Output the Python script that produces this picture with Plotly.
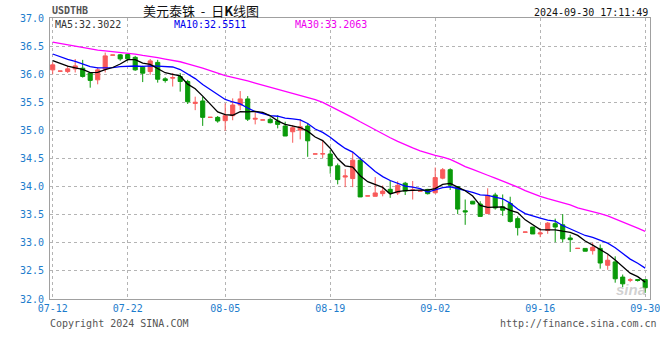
import plotly.graph_objects as go
import pandas as pd

# ---------------- data ----------------
dates = [d.strftime("%Y-%m-%d") for d in pd.date_range("2024-07-12", "2024-09-30")
         if d.strftime("%m-%d") != "07-28"]

open_ = [36.077, 36.053, 36.047, 36.095, 36.107, 36.02, 35.90, 36.09, 36.338, 36.344,
         36.35, 36.30, 36.125, 36.047, 36.21, 35.917, 35.93, 35.958, 35.87, 35.48,
         35.524, 35.230, 35.232, 35.173, 35.262, 35.452, 35.56, 35.20, 35.183, 35.196,
         35.167, 35.077, 34.976, 35.006, 35.077, 34.578, 34.58, 34.58, 34.37, 34.17,
         34.143, 34.47, 33.831, 33.827, 33.875, 33.952, 33.887, 34.06, 33.935, 33.918,
         33.95, 33.89, 34.15, 34.30, 34.0, 33.57, 33.74, 33.69, 33.52, 33.85,
         33.64, 33.70, 33.43, 33.188, 33.28, 33.157, 33.22, 33.34, 33.32, 33.086,
         32.898, 32.90, 32.86, 32.90, 32.60, 32.66, 32.39, 32.335, 32.345, 32.345]
high = [36.21, 36.056, 36.15, 36.27, 36.255, 36.02, 36.12, 36.385, 36.342, 36.36,
        36.37, 36.326, 36.15, 36.27, 36.255, 35.946, 36.02, 36.02, 35.90, 35.60,
        35.60, 35.234, 35.256, 35.48, 35.57, 35.70, 35.61, 35.32, 35.187, 35.23,
        35.27, 35.155, 35.095, 35.20, 35.125, 34.582, 34.83, 34.65, 34.41, 34.31,
        34.61, 34.52, 33.835, 34.17, 34.02, 34.11, 34.095, 34.084, 34.10, 33.922,
        33.96, 34.34, 34.33, 34.325, 34.01, 33.77, 33.745, 33.74, 33.97, 33.89,
        33.86, 33.82, 33.47, 33.192, 33.28, 33.26, 33.37, 33.43, 33.51, 33.145,
        32.902, 32.90, 33.0, 32.97, 32.79, 32.76, 32.435, 32.37, 32.35, 32.345]
low = [36.00, 36.053, 36.02, 36.03, 35.94, 35.76, 35.82, 36.03, 36.338, 36.24,
       36.24, 36.06, 35.86, 35.99, 35.85, 35.85, 35.78, 35.69, 35.47, 35.36,
       35.08, 35.230, 35.137, 34.994, 35.18, 35.36, 35.167, 35.107, 35.183, 35.125,
       35.036, 34.90, 34.78, 34.84, 34.53, 34.578, 34.51, 34.23, 34.04, 33.99,
       33.99, 33.816, 33.831, 33.827, 33.827, 33.80, 33.85, 33.85, 33.77, 33.918,
       33.86, 33.874, 34.13, 33.94, 33.51, 33.32, 33.69, 33.47, 33.52, 33.59,
       33.48, 33.36, 33.13, 33.188, 33.157, 33.10, 33.16, 33.01, 33.01, 32.837,
       32.898, 32.85, 32.79, 32.54, 32.52, 32.29, 32.21, 32.30, 32.31, 32.11]
close = [36.166, 36.056, 36.095, 36.148, 35.96, 35.89, 36.077, 36.326, 36.342, 36.273,
         36.273, 36.077, 36.018, 36.237, 35.91, 35.887, 35.94, 35.87, 35.51, 35.50,
         35.232, 35.234, 35.167, 35.262, 35.452, 35.56, 35.20, 35.214, 35.187, 35.137,
         35.107, 34.90, 35.048, 35.065, 34.815, 34.582, 34.585, 34.37, 34.125, 34.19,
         34.47, 33.816, 33.835, 33.887, 33.92, 33.887, 34.024, 33.92, 33.94, 33.922,
         33.874, 34.16, 34.30, 34.024, 33.60, 33.55, 33.69, 33.47, 33.843, 33.62,
         33.58, 33.38, 33.27, 33.192, 33.157, 33.175, 33.35, 33.28, 33.07, 33.056,
         32.902, 32.85, 32.92, 32.64, 32.69, 32.36, 32.27, 32.34, 32.33, 32.20]
# closes before 07-12 (estimated), needed for the moving averages at the left edge
prior_close = [36.80, 36.78, 36.75, 36.74, 36.72, 36.70, 36.73, 36.72, 36.70, 36.68,
               36.66, 36.70, 36.68, 36.65, 36.66, 36.62, 36.60, 36.58, 36.56, 36.53,
               36.55, 36.55, 36.50, 36.45, 36.33, 36.30, 36.35, 36.30, 36.10]

tick_dates = ["2024-07-12", "2024-07-22", "2024-08-05", "2024-08-19",
              "2024-09-02", "2024-09-16", "2024-09-30"]
tick_labels = ["07-12", "07-22", "08-05", "08-19", "09-02", "09-16", "09-30"]
y_ticks = [32.0, 32.5, 33.0, 33.5, 34.0, 34.5, 35.0, 35.5, 36.0, 36.5, 37.0]

# ---------------- moving averages ----------------
allc = pd.Series(prior_close + close)
n_prior = len(prior_close)
ma5 = allc.rolling(5).mean().iloc[n_prior:].tolist()
ma10 = allc.rolling(10).mean().iloc[n_prior:].tolist()
ma30 = allc.rolling(30).mean().iloc[n_prior:].tolist()

RED = "#f85a5a"
GREEN = "#0a9a0a"
BLUE_TXT = "#1c7ccc"
MONO = "DejaVu Sans Mono"

fig = go.Figure()
fig.add_trace(go.Candlestick(
    x=dates, open=open_, high=high, low=low, close=close,
    increasing=dict(line=dict(color=RED, width=1), fillcolor=RED),
    decreasing=dict(line=dict(color=GREEN, width=1), fillcolor=GREEN),
    whiskerwidth=0, hoverinfo="skip", showlegend=False))
fig.add_trace(go.Scatter(x=dates, y=ma30, mode="lines",
                         line=dict(color="#ff00ff", width=1.3), hoverinfo="skip", showlegend=False))
fig.add_trace(go.Scatter(x=dates, y=ma10, mode="lines",
                         line=dict(color="#0000ff", width=1.3), hoverinfo="skip", showlegend=False))
fig.add_trace(go.Scatter(x=dates, y=ma5, mode="lines",
                         line=dict(color="#000000", width=1.3), hoverinfo="skip", showlegend=False))

L, R, T, B = 50, 10, 18, 61
W, H = 660, 360
PW, PH = W - L - R, H - T - B


def px(x):
    return (x - L) / PW


def py(y):
    return (H - B - y) / PH


fig.update_layout(
    width=W, height=H,
    margin=dict(l=L, r=R, t=T, b=B, pad=0, autoexpand=False),
    paper_bgcolor="white", plot_bgcolor="white",
    showlegend=False,
    boxgap=0.22,
    xaxis=dict(type="category", range=[-0.36, len(dates) - 0.36],
               tickmode="array", tickvals=tick_dates, ticktext=tick_labels,
               showgrid=True, gridcolor="#b4b4b4", griddash="dot", gridwidth=1,
               showline=True, linecolor="#a0a0a0", linewidth=1, mirror=True,
               ticks="", rangeslider=dict(visible=False),
               tickfont=dict(family=MONO, size=10, color=BLUE_TXT)),
    yaxis=dict(range=[32.0, 37.0], tickmode="array", tickvals=y_ticks,
               ticktext=[f"{v:.1f}" for v in y_ticks],
               showgrid=True, gridcolor="#b4b4b4", griddash="dot", gridwidth=1,
               zeroline=False,
               showline=True, linecolor="#a0a0a0", linewidth=1, mirror=True,
               ticks="", ticklabelstandoff=3,
               tickfont=dict(family=MONO, size=10, color=BLUE_TXT)),
)


def ann(text, x, y, xanchor="left", size=10, color="#333", family=MONO):
    fig.add_annotation(text=text, x=px(x), y=py(y), xref="paper", yref="paper",
                       xanchor=xanchor, yanchor="middle", showarrow=False,
                       font=dict(family=family, size=size, color=color),
                       borderpad=0)


ann("<b>USDTHB</b>", 51, 11, size=10, color="#555")
ann("美元泰铢&nbsp;&nbsp;-&nbsp;&nbsp;日<b>K</b>线图", 201, 10, xanchor="center", size=13,
    color="#111", family="Noto Sans CJK SC")
ann("2024-09-30 17:11:49", 649, 12, xanchor="right", size=10, color="#111")
ann("MA5:32.3022", 54, 24, size=10, color="#333")
ann("MA10:32.5511", 173, 24, size=10, color="#0000ee")
ann("MA30:33.2063", 294, 24, size=10, color="#ee00ee")
ann("Copyright 2024 SINA.COM", 49, 323, size=10, color="#555")
ann("http://finance.sina.com.cn", 658, 323, xanchor="right", size=10, color="#555")
ann("<b><i>sina</i></b>", 631, 289, xanchor="center", size=15,
    color="rgba(170,170,170,0.55)", family="Liberation Sans")

fig.write_html("out.html", config={"displayModeBar": False},
               post_script="document.body.style.margin='0';")
